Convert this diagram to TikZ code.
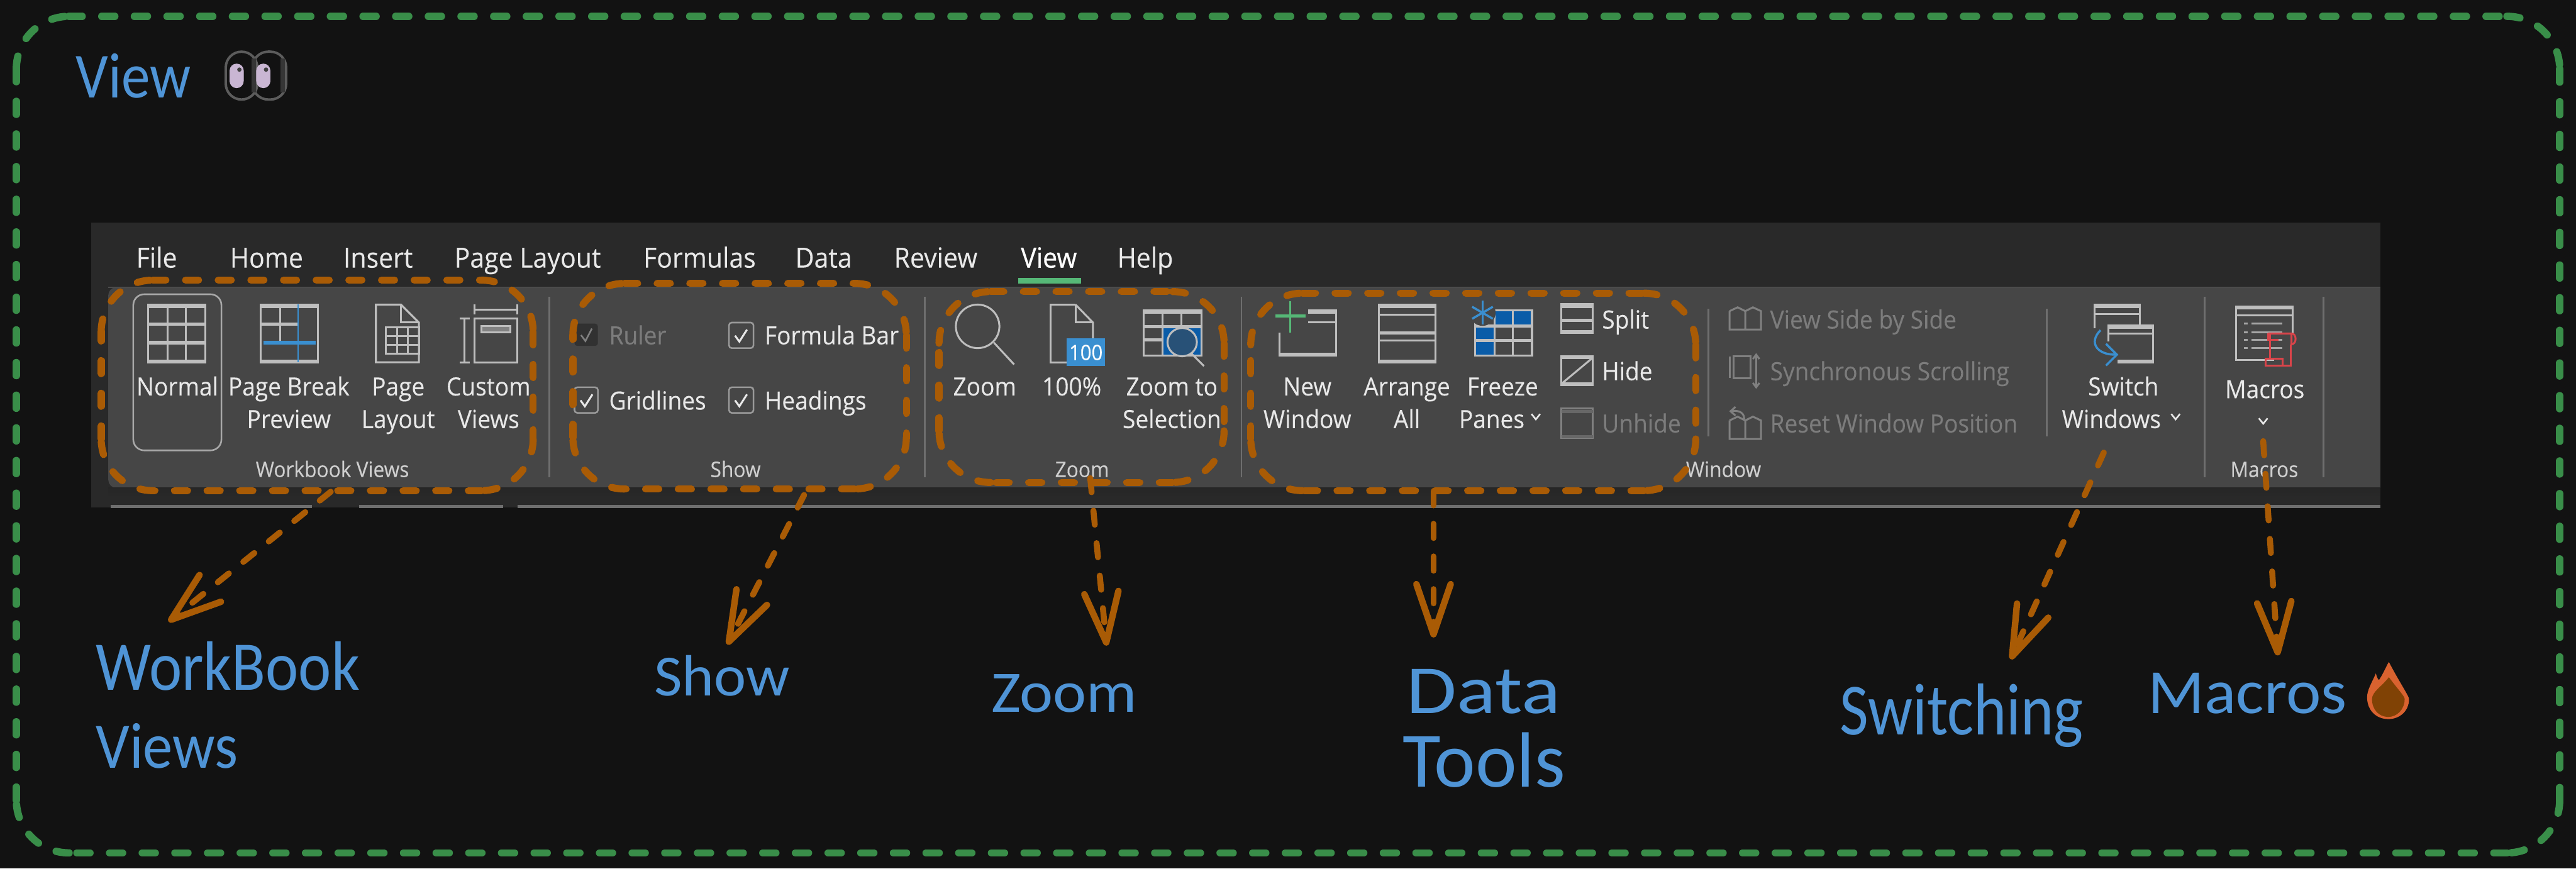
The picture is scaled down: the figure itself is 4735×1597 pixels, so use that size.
\documentclass[tikz,border=0pt]{standalone}
\usepackage{fontspec}
\usepackage{graphicx}
\usetikzlibrary{arrows.meta}
\setmainfont{Open Sans}
\newfontfamily\rfont[FakeStretch=0.93,FakeBold=0.2]{Open Sans}
\newfontfamily\rbold[FakeStretch=0.93,FakeBold=0.7]{Open Sans}
\newfontfamily\handfont{Carlito}
\definecolor{bgc}{HTML}{121212}
\definecolor{tabc}{HTML}{292929}
\definecolor{ribc}{HTML}{464646}
\definecolor{sepc}{HTML}{6E6E6E}
\definecolor{txtc}{HTML}{E8E8E8}
\definecolor{dimc}{HTML}{7C7C7C}
\definecolor{grpc}{HTML}{CFCFCF}
\definecolor{icoc}{HTML}{BEBEBE}
\definecolor{dimi}{HTML}{808080}
\definecolor{orgc}{HTML}{A95B05}
\definecolor{grnc}{HTML}{398E49}
\definecolor{lblc}{HTML}{4F94D6}
\definecolor{bluc}{HTML}{3A8FD0}
\definecolor{dblc}{HTML}{0A5CA8}
\definecolor{redc}{HTML}{D9444A}
\definecolor{plusc}{HTML}{56B877}
\definecolor{lilac}{HTML}{C9B6D3}
\definecolor{eyeedge}{HTML}{5C5C5C}
\definecolor{eyeshade}{HTML}{363636}
\definecolor{flameout}{HTML}{D9622F}
\definecolor{flamein}{HTML}{804205}
\tikzset{
  framedash/.style={draw=grnc,line width=0.135cm,line cap=round,dash pattern=on 0.24cm off 0.36cm},
  orgdash/.style={draw=orgc,line width=0.13cm,line cap=round,dash pattern=on 0.24cm off 0.36cm},
  pointer/.style={draw=orgc,line width=0.11cm,line cap=round,dash pattern=on 0.26cm off 0.34cm,
    -{Straight Barb[length=0.92cm,width=0.63cm,round,line width=0.12cm]}},
  ico/.style={draw=icoc,line width=0.035cm,line join=miter},
  icothick/.style={draw=icoc,line width=0.06cm},
  dimico/.style={draw=dimi,line width=0.035cm},
  sep/.style={draw=sepc,line width=0.03cm},
  tabtxt/.style={anchor=base,inner sep=0pt,text=txtc,font=\rfont\fontsize{14.5}{14.5}\selectfont},
  rtxt/.style={anchor=base,inner sep=0pt,text=txtc,font=\rfont\fontsize{13.1}{13.1}\selectfont},
  ltxt/.style={rtxt,anchor=base west},
  dtxt/.style={rtxt,anchor=base west,text=dimc},
  grptxt/.style={anchor=base,inner sep=0pt,text=grpc,font=\rfont\fontsize{11.2}{11.2}\selectfont},
  handtxt/.style={inner sep=0pt,text=lblc},
  chk/.style={draw=sepc!70!white,line width=0.03cm,rounded corners=0.05cm},
  tick/.style={draw=txtc,line width=0.035cm},
  chev/.style={draw=txtc,line width=0.03cm},
  eyeball/.style={draw=eyeedge,line width=0.045cm,fill=bgc,rounded corners=0.29cm},
  pupil/.style={fill=lilac,rounded corners=0.13cm}
}
\newcommand{\roughbox}[6]{%
  \pgfmathsetmacro\rbK{#5*0.448}%
  \draw[#6] ({#1+#5},#2) -- ({#3-#5},#2);
  \draw[#6] ({#3-#5},#2) .. controls ({#3-\rbK},#2) and (#3,{#2+\rbK}) .. (#3,{#2+#5});
  \draw[#6] (#3,{#2+#5}) -- (#3,{#4-#5});
  \draw[#6] (#3,{#4-#5}) .. controls (#3,{#4-\rbK}) and ({#3-\rbK},#4) .. ({#3-#5},#4);
  \draw[#6] ({#3-#5},#4) -- ({#1+#5},#4);
  \draw[#6] ({#1+#5},#4) .. controls ({#1+\rbK},#4) and (#1,{#4-\rbK}) .. (#1,{#4-#5});
  \draw[#6] (#1,{#4-#5}) -- (#1,{#2+#5});
  \draw[#6] (#1,{#2+#5}) .. controls (#1,{#2+\rbK}) and ({#1+\rbK},#2) .. ({#1+#5},#2);
}
\newcommand{\handlabel}[6]{% name cx cy w h text
  \node[handtxt] (#1) at (#2,#3) {\resizebox*{#4}{#5}{\handfont #6}};
}
\newcommand{\chevron}[2]{\draw[chev] ({#1-8},{#2-5}) -- (#1,{#2+5}) -- ({#1+8},{#2-5});}
\begin{document}
\begin{tikzpicture}[x=0.01cm,y=-0.01cm]
\useasboundingbox (0,0) rectangle (4735,1597);
\fill[bgc] (0,0) rectangle (4735,1597);
% ribbon window
\fill[tabc] (168,409) rectangle (4375,933);
\fill[ribc,rounded corners=0.15cm] (199,528) -- (4500,528) -- (4500,897) -- (199,897) -- cycle;
\fill[bgc] (4375,400) rectangle (4520,940);
\shade[top color=black!85!white,bottom color=tabc] (199,897) rectangle (4375,915);
\draw[draw=black!70!white,line width=0.02cm] (199,528) -- (4375,528);
\draw[draw=sepc,line width=0.05cm] (203,931) -- (573,931);
\draw[draw=sepc,line width=0.05cm] (660,931) -- (925,931);
\draw[draw=sepc,line width=0.05cm] (951,931) -- (4375,931);
% tabs
\node[tabtxt] (tFile) at (288,492) {File};
\node[tabtxt] (tHome) at (490,492) {Home};
\node[tabtxt] (tInsert) at (695,492) {Insert};
\node[tabtxt] (tLayout) at (970,492) {Page Layout};
\node[tabtxt] (tFormulas) at (1286,492) {Formulas};
\node[tabtxt] (tData) at (1514,492) {Data};
\node[tabtxt] (tReview) at (1720,492) {Review};
\node[tabtxt,font=\rbold\fontsize{14.5}{14.5}\selectfont,text=white] (tView) at (1928,492) {View};
\node[tabtxt] (tHelp) at (2105,492) {Help};
\fill[plusc] (1872,511) rectangle (1987,521);
% separators
\draw[sep] (1010,546) -- (1010,877);
\draw[sep] (1700,546) -- (1700,877);
\draw[sep] (2282,546) -- (2282,877);
\draw[sep] (3140,568) -- (3140,802);
\draw[sep] (3762,568) -- (3762,802);
\draw[sep] (4052,546) -- (4052,877);
\draw[sep] (4271,546) -- (4271,877);
% Normal
\draw[draw=sepc!60!white,line width=0.03cm,rounded corners=0.2cm] (245,541) rectangle (407,828);
\draw[ico] (272,560) rectangle (377,666);
\draw[icothick] (272,563) -- (377,563);\draw[icothick] (272,596) -- (377,596);\draw[icothick] (272,630) -- (377,630);\draw[icothick] (272,664) -- (377,664);
\draw[ico] (308,560) -- (308,666);\draw[ico] (342,560) -- (342,666);
% Page break
\draw[ico] (479,560) rectangle (584,666);
\draw[icothick] (479,563) -- (584,563);\draw[icothick] (479,664) -- (584,664);
\draw[icothick] (479,596) -- (548,596);
\draw[ico] (515,560) -- (515,630);
\draw[draw=bluc,line width=0.03cm] (548,560) -- (548,666);
\draw[draw=bluc,line width=0.06cm] (484,630) -- (580,630);
% Page layout
\draw[ico] (691,560) -- (737,560) -- (770,593) -- (770,666) -- (691,666) -- cycle;
\draw[ico] (737,560) -- (737,593) -- (770,593);
\draw[ico] (709,602) rectangle (770,650);
\draw[ico] (709,618) -- (770,618);\draw[ico] (709,634) -- (770,634);
\draw[ico] (730,602) -- (730,650);\draw[ico] (750,602) -- (750,650);
% Custom views
\draw[ico] (872,560) -- (872,578);\draw[ico] (951,560) -- (951,578);\draw[ico] (872,569) -- (951,569);
\draw[ico] (854,586) -- (854,666);\draw[ico] (845,586) -- (863,586);\draw[ico] (845,666) -- (863,666);
\draw[ico] (872,586) rectangle (951,666);
\draw[ico,fill=icoc!50!ribc] (885,599) rectangle (938,611);
% Ribbon text: Workbook views
\node[rtxt] (nNormal) at (326,727) {Normal};
\node[rtxt] (nBreak) at (531,727) {Page Break};
\node[rtxt] (nPreview) at (531,787) {Preview};
\node[rtxt] (nPage) at (732,727) {Page};
\node[rtxt] (nLayout) at (732,787) {Layout};
\node[rtxt] (nCustom) at (898,727) {Custom};
\node[rtxt] (nViews) at (898,787) {Views};
\node[grptxt] (gWorkbook) at (611,877) {Workbook Views};
% Show
\fill[black!30!ribc,rounded corners=0.05cm] (1056,595) rectangle (1099,636);
\draw[draw=dimi,line width=0.03cm] (1068,616) -- (1076,627) -- (1088,604);
\draw[chk] (1340,593) rectangle (1385,640);
\draw[tick] (1351,617) -- (1359,628) -- (1373,606);
\draw[chk] (1056,712) rectangle (1099,759);
\draw[tick] (1067,736) -- (1075,747) -- (1089,725);
\draw[chk] (1340,712) rectangle (1385,759);
\draw[tick] (1351,736) -- (1359,747) -- (1373,725);
\node[dtxt] (nRuler) at (1119,633) {Ruler};
\node[ltxt] (nFormula) at (1405,633) {Formula Bar};
\node[ltxt] (nGrid) at (1119,753) {Gridlines};
\node[ltxt] (nHead) at (1405,753) {Headings};
\node[grptxt] (gShow) at (1352,877) {Show};
% Zoom
\draw[ico] (1797,600) ellipse [x radius=40,y radius=40];
\draw[ico] (1827,630) -- (1864,670);
\draw[ico] (1977,560) -- (1931,560) -- (1931,666) -- (1961,666);
\draw[ico] (1977,560) -- (2009,593) -- (2009,622);
\draw[ico] (1977,560) -- (1977,593) -- (2009,593);
\fill[bluc] (1961,622) rectangle (2031,673);
\node[inner sep=0pt,text=white,font=\rfont\fontsize{11}{11}\selectfont] (n100) at (1996,648) {100};
\fill[dblc] (2137,598) rectangle (2208,654);
\draw[ico] (2102,571) rectangle (2208,654);
\draw[icothick] (2102,574) -- (2208,574);\draw[icothick] (2102,601) -- (2208,601);\draw[icothick] (2102,625) -- (2137,625);
\draw[ico] (2137,571) -- (2137,654);\draw[ico] (2172,571) -- (2172,598);
\draw[ico,fill=ribc!50!dblc] (2173,629) ellipse [x radius=27,y radius=26];
\draw[ico] (2190,650) -- (2213,673);
\node[rtxt] (nZoom) at (1810,727) {Zoom};
\node[rtxt] (n100p) at (1970,727) {100\%};
\node[rtxt] (nZoomTo) at (2154,727) {Zoom to};
\node[rtxt] (nSel) at (2154,787) {Selection};
\node[grptxt] (gZoom) at (1989,877) {Zoom};
% New window
\draw[ico] (2352,611) -- (2352,654) -- (2456,654) -- (2456,571) -- (2405,571);
\draw[ico] (2405,592) -- (2456,592);
\draw[icothick] (2352,652) -- (2456,652);\draw[icothick] (2405,574) -- (2456,574);
\draw[draw=plusc,line width=0.035cm] (2372,554) -- (2372,611);
\draw[draw=plusc,line width=0.05cm] (2344,581) -- (2400,581);
% Arrange all
\draw[ico] (2535,560) rectangle (2638,666);
\draw[icothick] (2535,564) -- (2638,564);\draw[ico] (2535,579) -- (2638,579);
\draw[icothick] (2535,612) -- (2638,612);\draw[ico] (2535,626) -- (2638,626);\draw[icothick] (2535,664) -- (2638,664);
% Freeze panes
\fill[dblc] (2747,571) rectangle (2816,597);
\fill[dblc] (2711,597) rectangle (2747,654);
\draw[ico] (2711,571) rectangle (2816,654);
\draw[icothick] (2711,599) -- (2816,599);\draw[icothick] (2711,626) -- (2816,626);
\draw[ico] (2747,571) -- (2747,654);\draw[ico] (2781,571) -- (2781,654);
\fill[ribc] (2725,575) circle (24);
\draw[draw=bluc,line width=0.04cm] (2725,553) -- (2725,597);
\draw[draw=bluc,line width=0.04cm] (2706,564) -- (2744,586);
\draw[draw=bluc,line width=0.04cm] (2706,586) -- (2744,564);
\node[rtxt] (nNew) at (2403,727) {New};
\node[rtxt] (nWindow) at (2403,787) {Window};
\node[rtxt] (nArrange) at (2586,727) {Arrange};
\node[rtxt] (nAll) at (2586,787) {All};
\node[rtxt] (nFreeze) at (2762,727) {Freeze};
\node[rtxt] (nPanes) at (2742,787) {Panes};
\chevron{2823}{766}
% Split / hide / unhide
\draw[ico] (2870,559) rectangle (2928,612);
\draw[icothick] (2870,564) -- (2928,564);\draw[icothick] (2870,589) -- (2928,589);\draw[icothick] (2870,610) -- (2928,610);
\draw[ico] (2870,655) rectangle (2928,708);
\draw[icothick] (2870,657) -- (2928,657);\draw[icothick] (2870,706) -- (2928,706);
\draw[ico] (2872,704) -- (2926,659);
\draw[dimico] (2870,751) rectangle (2928,805);
\draw[draw=dimi!120!white,line width=0.06cm] (2870,757) -- (2928,757);
\draw[draw=dimi!120!white,line width=0.06cm] (2870,803) -- (2928,803);
\node[ltxt] (nSplit) at (2944,604) {Split};
\node[ltxt] (nHide) at (2944,699) {Hide};
\node[dtxt] (nUnhide) at (2944,795) {Unhide};
\node[grptxt] (gWindow) at (3168,877) {Window};
% Window disabled
\draw[dimico] (3179,572) -- (3179,606) -- (3237,606) -- (3237,572) -- (3222,565) -- (3208,572) -- (3208,606);
\draw[dimico] (3179,572) -- (3194,565) -- (3208,572);
\draw[dimico] (3179,655) -- (3179,695);\draw[dimico] (3186,655) rectangle (3218,695);
\draw[dimico] (3228,652) -- (3228,712);\draw[dimico] (3222,660) -- (3228,652) -- (3234,660);\draw[dimico] (3222,704) -- (3228,712) -- (3234,704);
\draw[dimico] (3179,773) -- (3179,807) -- (3237,807) -- (3237,773) -- (3222,766) -- (3208,773) -- (3208,807);
\draw[dimico] (3179,773) -- (3194,766) -- (3208,773);
\draw[dimico] (3206,770) .. controls (3206,756) and (3192,754) .. (3182,756);\draw[dimico] (3190,748) -- (3181,756) -- (3190,764);
\node[dtxt] (nSide) at (3253,604) {View Side by Side};
\node[dtxt] (nSync) at (3253,699) {Synchronous Scrolling};
\node[dtxt] (nReset) at (3253,795) {Reset Window Position};
% Switch windows
\draw[ico] (3850,604) -- (3850,560) -- (3933,560) -- (3933,596);
\draw[icothick] (3850,564) -- (3933,564);\draw[ico] (3850,577) -- (3933,577);
\draw[ico] (3875,628) -- (3875,598) -- (3957,598) -- (3957,666) -- (3892,666);
\draw[icothick] (3875,602) -- (3957,602);\draw[ico] (3875,613) -- (3957,613);\draw[icothick] (3892,664) -- (3957,664);
\draw[draw=bluc,line width=0.04cm] (3861,607) .. controls (3838,630) and (3855,653) .. (3890,652);
\draw[draw=bluc,line width=0.04cm] (3871,632) -- (3891,652) -- (3871,672);
\node[rtxt] (nSwitch) at (3903,727) {Switch};
\node[rtxt] (nWindows) at (3881,787) {Windows};
\chevron{3999}{766}
% Macros
\draw[ico] (4180,662) -- (4110,662) -- (4110,563) -- (4214,563) -- (4214,613);
\draw[icothick] (4110,566) -- (4214,566);\draw[ico] (4110,580) -- (4214,580);
\foreach \ya in {595,611,625,640}{\draw[draw=icoc!80!ribc,line width=0.03cm,dash pattern=on 0.06cm off 0.08cm on 0.5cm off 0cm] (4125,\ya) -- (4198,\ya);}
\draw[draw=redc,line width=0.035cm] (4169,613) -- (4212,613) .. controls (4222,613) and (4222,633) .. (4212,633) -- (4212,613);
\draw[draw=redc,line width=0.035cm] (4169,613) -- (4169,625) -- (4188,625);
\draw[draw=redc,line width=0.035cm] (4173,613) -- (4173,660);
\draw[draw=redc,line width=0.035cm] (4211,633) -- (4211,672) -- (4165,672) -- (4165,660) -- (4196,660) -- (4196,672);
\node[rtxt] (nMacros) at (4163,732) {Macros};
\chevron{4160}{774}
\node[grptxt] (gMacros) at (4162,877) {Macros};
% frame
\roughbox{30}{30}{4705}{1568}{97}{framedash}
% title
\handlabel{lView}{245}{139}{2.11cm}{0.82cm}{View}
% eyes
\draw[eyeball] (464,95) rectangle (526,183);
\fill[eyeshade] (515,108) rectangle (524,170);
\draw[eyeball] (415,95) rectangle (473,183);
\fill[eyeshade] (462,108) rectangle (471,170);
\fill[pupil] (422,117) rectangle (448,162);
\fill[pupil] (471,117) rectangle (497,162);
\fill[black!75] (440,128) circle (4);
\fill[black!75] (489,128) circle (4);
% orange boxes
\roughbox{186}{515}{980}{902}{95}{orgdash}
\roughbox{1053}{521}{1666}{899}{95}{orgdash}
\roughbox{1726}{536}{2250}{887}{95}{orgdash}
\roughbox{2299}{539}{3117}{902}{95}{orgdash}
% labels
\handlabel{lWorkbook}{419}{1225}{4.84cm}{0.90cm}{WorkBook}
\handlabel{lViews}{307}{1371}{2.61cm}{0.83cm}{Views}
\handlabel{lShow}{1327}{1242}{2.49cm}{0.75cm}{Show}
\handlabel{lZoom}{1956}{1275}{2.68cm}{0.70cm}{Zoom}
\handlabel{lData}{2727}{1271}{2.83cm}{0.82cm}{Data}
\handlabel{lTools}{2728}{1397}{2.98cm}{1.01cm}{Tools}
\handlabel{lSwitching}{3606}{1316}{4.47cm}{1.17cm}{Switching}
\handlabel{lMacros}{4131}{1275}{3.65cm}{0.75cm}{Macros}
% flame
\fill[flameout] (4391,1217) .. controls (4408,1250) and (4428,1280) .. (4428,1285)
  .. controls (4428,1308) and (4410,1322) .. (4390,1322) .. controls (4368,1322) and (4351,1306) .. (4351,1282)
  .. controls (4351,1268) and (4360,1255) .. (4367,1238) .. controls (4369,1245) and (4371,1250) .. (4373,1250) .. controls (4380,1240) and (4386,1225) .. (4391,1217) -- cycle;
\fill[flamein] (4391,1245) .. controls (4408,1268) and (4420,1280) .. (4420,1285)
  .. controls (4420,1305) and (4405,1318) .. (4390,1318) .. controls (4373,1318) and (4360,1305) .. (4360,1285)
  .. controls (4360,1272) and (4378,1262) .. (4391,1245) -- cycle;
% arrows
\coordinate (aWbS) at (608,904);  \coordinate (aWbT) at (310,1143);
\coordinate (aShS) at (1478,910); \coordinate (aShT) at (1337,1185);
\coordinate (aZoS) at (2004,879); \coordinate (aZoT) at (2034,1187);
\coordinate (aDaS) at (2635,903); \coordinate (aDaT) at (2635,1172);
\coordinate (aSwS) at (3867,832); \coordinate (aSwT) at (3696,1212);
\coordinate (aMaS) at (4160,811); \coordinate (aMaT) at (4187,1205);
\draw[pointer] (aWbS) -- (aWbT);
\draw[pointer] (aShS) -- (aShT);
\draw[pointer] (aZoS) -- (aZoT);
\draw[pointer] (aDaS) -- (aDaT);
\draw[pointer] (aSwS) -- (aSwT);
\draw[pointer] (aMaS) -- (aMaT);
\end{tikzpicture}
\end{document}
